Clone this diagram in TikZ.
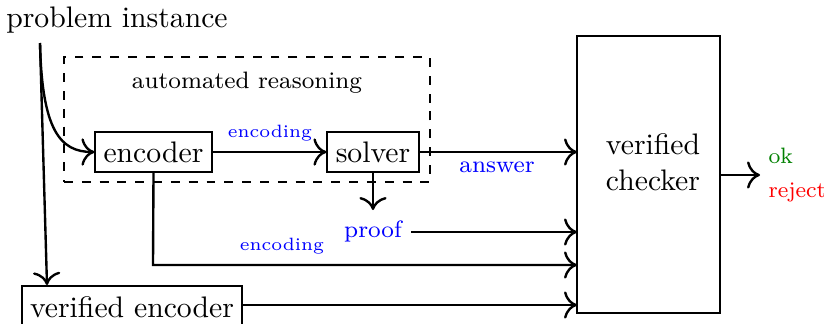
\documentclass[tikz,border=0pt]{standalone}
\usetikzlibrary{arrows.meta}
\begin{document}
\begin{tikzpicture}[x=0.3367pt,y=-0.3367pt,
  box/.style={draw,line width=0.4pt,inner sep=0pt,anchor=center},
  conn/.style={-{To[scale=1.3]},line width=0.8pt},
  lbl/.style={inner sep=0pt,anchor=center}]
\useasboundingbox (0,0) rectangle (824,323);
% dashed container
\node[draw,dashed,line width=0.4pt,minimum width=366*0.3367pt,minimum height=125*0.3367pt,inner sep=0pt] (ar) at (247,119.5) {};
\node[lbl] (art) at (247,83) {\footnotesize automated reasoning};
\node[lbl] (pi) at (117,20) {problem instance};
\node[box,minimum width=117*0.3367pt,minimum height=40*0.3367pt] (enc) at (153.5,152) {encoder};
\node[box,minimum width=92*0.3367pt,minimum height=40*0.3367pt] (sol) at (373,152) {solver};
\node[box,minimum width=220*0.3367pt,minimum height=42*0.3367pt] (venc) at (132,307) {verified encoder};
\node[box,minimum width=143*0.3367pt,minimum height=277*0.3367pt] (chk) at (648.5,174.5) {};
\node[lbl,align=center] (chkt) at (653,162) {verified\\checker};
\node[lbl] (proof) at (373,231) {\footnotesize\color{blue}proof};
\node[lbl] (ans) at (497,167) {\footnotesize\color{blue}answer};
\node[lbl] (e1) at (270,133) {\fontsize{6}{7}\selectfont\color{blue}encoding};
\node[lbl] (e2) at (282,246) {\fontsize{6}{7}\selectfont\color{blue}encoding};
\node[lbl,anchor=west] (ok) at (768,156) {\fontsize{7.5}{9}\selectfont\color{green!50!black}ok};
\node[lbl,anchor=west] (rej) at (768,192) {\fontsize{7.5}{9}\selectfont\color{red}reject};
\coordinate (top) at (40,43);
\coordinate (pdn) at (373,210);
\coordinate (proofe) at (411,232);
\coordinate (corner) at (153,265);
\coordinate (cin1) at (577,232);
\coordinate (cin2) at (577,265);
\coordinate (cin3) at (577,305);
\coordinate (cin0) at (577,152);
\coordinate (out) at (760,175);
\coordinate (vtop) at (47,285);
\draw[conn] (top) -- (vtop);
\draw[conn] (top) .. controls (42,130) and (60,152) .. (enc.west);
\draw[conn] (enc.east) -- (sol.west);
\draw[conn] (sol.east) -- (cin0);
\draw[conn] (sol.south) -- (pdn);
\draw[conn] (proofe) -- (cin1);
\draw[conn] (enc.south) -- (corner) -- (cin2);
\draw[conn] (venc.east |- cin3) -- (cin3);
\draw[conn] (chk.east |- out) -- (out);
\end{tikzpicture}
\end{document}
